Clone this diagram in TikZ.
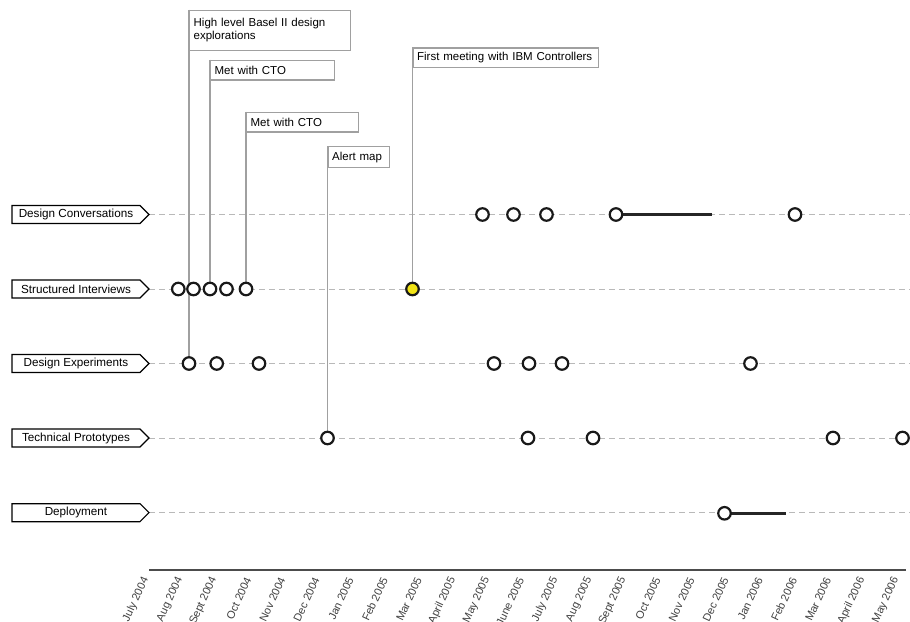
\documentclass[tikz,border=0pt]{standalone}
\usepackage{fontspec}
\setmainfont{Liberation Sans}
\usetikzlibrary{backgrounds}
\definecolor{evyellow}{RGB}{242,228,22}
\definecolor{leadgray}{RGB}{160,160,160}
\definecolor{trackgray}{RGB}{185,185,185}
\begin{document}
\begin{tikzpicture}[x=1pt,y=-1pt,
  rowlab/.style={draw=black, line width=1.1pt, fill=white},
  rowtxt/.style={font=\fontsize{11.7}{13}\selectfont, inner sep=0pt},
  track/.style={draw=trackgray, line width=1pt, dash pattern=on 6pt off 4pt},
  ev/.style={circle, draw=black!90, line width=2.2pt, fill=white, minimum size=12.5pt, inner sep=0pt},
  evy/.style={ev, fill=evyellow},
  spanbar/.style={draw=black!85, line width=2.5pt},
  annot/.style={draw=leadgray, line width=1.3pt, fill=white, font=\fontsize{11.5}{13.3}\selectfont, align=left, anchor=north west, inner xsep=4pt, inner ysep=2pt},
  lead/.style={draw=leadgray, line width=1.2pt},
  axisline/.style={draw=black!70, line width=1.6pt},
  month/.style={font=\fontsize{11}{12}\selectfont, text=black!75, rotate=65, anchor=east, inner sep=0pt}
]
\useasboundingbox (0,0) rectangle (910,621);

% row labels
\foreach \n/\y/\t in {r1/214.5/Design Conversations, r2/289/Structured Interviews, r3/363.5/Design Experiments, r4/438/Technical Prototypes, r5/512.7/Deployment}{
  \draw[rowlab] (12,\y-9) -- (140,\y-9) -- (149,\y) -- (140,\y+9) -- (12,\y+9) -- cycle;
  \node[rowtxt] (\n) at (76,\y) {\t};
  \coordinate (\n tip) at (149,\y);
  \coordinate (\n end) at (910,\y);
}

% event circles
\node[ev] (a1) at (482.5,214.5) {};
\node[ev] (a2) at (513.5,214.5) {};
\node[ev] (a3) at (546.5,214.5) {};
\node[ev] (a4) at (616,214.5) {};
\node[ev] (a5) at (795,214.5) {};
\coordinate (a4end) at (711.5,214.5);

\node[ev] (b1) at (178.3,289) {};
\node[ev] (b2) at (193.5,289) {};
\node[ev] (b3) at (210,289) {};
\node[ev] (b4) at (226.5,289) {};
\node[ev] (b5) at (246,289) {};
\node[evy] (b6) at (412.5,289) {};

\node[ev] (c1) at (189,363.5) {};
\node[ev] (c2) at (216.7,363.5) {};
\node[ev] (c3) at (259,363.5) {};
\node[ev] (c4) at (494,363.5) {};
\node[ev] (c5) at (529,363.5) {};
\node[ev] (c6) at (562,363.5) {};
\node[ev] (c7) at (750.5,363.5) {};

\node[ev] (d1) at (327.5,438) {};
\node[ev] (d2) at (528,438) {};
\node[ev] (d3) at (593,438) {};
\node[ev] (d4) at (833,438) {};
\node[ev] (d5) at (902.5,438) {};

\node[ev] (e1) at (724.5,513.3) {};
\coordinate (e1end) at (786,513.3);

% annotation boxes
\node[annot, minimum width=160.5pt, minimum height=40pt, text width=152.5pt] (n1) at (189,9.5) {High level Basel II design\\explorations};
\node[annot, minimum width=123.5pt, minimum height=19.7pt, text width=115.5pt] (n2) at (210,59.5) {Met with CTO};
\node[annot, minimum width=111.5pt, minimum height=19.5pt, text width=103.5pt] (n3) at (246,111.7) {Met with CTO};
\node[annot, minimum width=61.5pt, minimum height=21pt, text width=53.5pt] (n4) at (327.5,146) {Alert map};
\node[annot, minimum width=185pt, minimum height=19.5pt, text width=177pt] (n5) at (412.5,47.3) {First meeting with IBM Controllers};

\begin{scope}[on background layer]
  \foreach \n in {r1,r2,r3,r4,r5}{
    \draw[track] (\n tip) -- (\n end);
  }
  \draw[spanbar] (a4.center) -- (a4end);
  \draw[spanbar] (e1.center) -- (e1end);
  \draw[lead] (n1.north west) -- (c1.center);
  \draw[lead] (n2.north west) -- (b3.center);
  \draw[lead] (n3.north west) -- (b5.center);
  \draw[lead] (n4.north west) -- (d1.center);
  \draw[lead] (n5.north west) -- (b6.center);
\end{scope}

% time axis
\coordinate (ax0) at (149,570);
\coordinate (ax1) at (906,570);
\draw[axisline] (ax0) -- (ax1);
\foreach \m [count=\i from 0] in {July 2004, Aug 2004, Sept 2004, Oct 2004, Nov 2004, Dec 2004, Jan 2005, Feb 2005, Mar 2005, April 2005, May 2005, June 2005, July 2005, Aug 2005, Sept 2005, Oct 2005, Nov 2005, Dec 2005, Jan 2006, Feb 2006, Mar 2006, April 2006, May 2006}{
  \node[month] (m\i) at ({146+34.1*\i},578) {\m};
}
\end{tikzpicture}
\end{document}
